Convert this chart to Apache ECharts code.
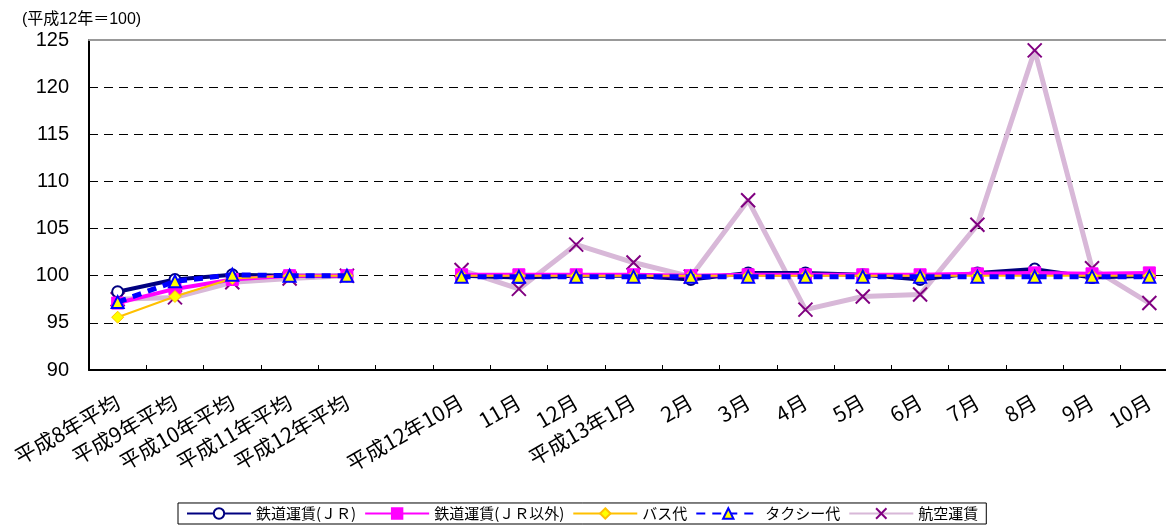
<!DOCTYPE html>
<html><head><meta charset="utf-8">
<script src="https://cdn.jsdelivr.net/npm/echarts@6/dist/echarts.min.js"></script>
<style>html,body{margin:0;padding:0;background:#fff;}#c{width:1166px;height:525px;}</style>
</head><body><div id="c"></div>
<script>
const categories = ['平成8年平均','平成9年平均','平成10年平均','平成11年平均','平成12年平均','',
  '平成12年10月','11月','12月','平成13年1月','2月','3月','4月','5月','6月','7月','8月','9月','10月'];
const seriesNames = ['鉄道運賃(ＪＲ)','鉄道運賃(ＪＲ以外)','バス代','タクシー代','航空運賃'];
const jr      = [98.3, 99.6, 100.1, 100.0, 100.0, null, 100.0, 99.8, 100.0, 100.0, 99.6, 100.3, 100.3, 100.1, 99.6, 100.3, 100.7, 99.8, 100.0];
const nonJr   = [97.1, 98.6, 99.6, 100.0, 100.0, null, 100.1, 100.1, 100.1, 100.1, 100.0, 100.1, 100.1, 100.1, 100.1, 100.2, 100.3, 100.2, 100.3];
const bus     = [95.6, 97.8, 99.7, 100.0, 100.0, null, 100.0, 100.0, 100.0, 100.0, 100.0, 100.0, 100.0, 100.0, 100.0, 100.0, 100.0, 100.0, 100.0];
const taxi    = [97.2, 99.4, 100.1, 100.0, 100.0, null, 99.9, 99.9, 99.9, 99.9, 99.9, 99.9, 99.9, 99.9, 99.9, 99.9, 99.9, 99.9, 99.9];
const air     = [97.5, 97.7, 99.3, 99.7, 100.0, null, 100.6, 98.6, 103.3, 101.4, 99.9, 108.0, 96.4, 97.8, 98.0, 105.4, 123.9, 100.8, 97.1];
const yTicks = {min: 90, max: 125, interval: 5};

const FONT = '"Liberation Sans", "Noto Sans CJK JP", sans-serif';
const JP = '"Noto Sans CJK JP", sans-serif';
const chart = echarts.init(document.getElementById('c'));
const crossPath = 'path://M0,0L10,10M10,0L0,10';
chart.setOption({
  animation: false,
  textStyle: {fontFamily: FONT},
  graphic: [{type:'text', left: 22, top: 12, style:{text:'(平成12年＝100)', font:'16px ' + FONT, fill:'#000'}}],
  grid: {left: 89, top: 40, width: 1089, height: 330, outerBoundsMode: 'none', containLabel: false},
  legend: {
    bottom: 1, left: 178, itemGap: 8, itemWidth: 64, itemHeight: 13,
    borderColor: '#000', borderWidth: 1, padding: [3, 8],
    textStyle: {fontSize: 15, color: '#000', fontFamily: JP},
    data: seriesNames
  },
  xAxis: [{
    type: 'category', data: categories, boundaryGap: true,
    axisLine: {lineStyle: {color: '#000', width: 2}},
    axisTick: {show: true, inside: true, length: 5, lineStyle: {color: '#000'}},
    axisLabel: {rotate: 30, interval: 0, fontSize: 21, color: '#000', margin: 30, fontFamily: JP}
  }, {
    type: 'category', data: categories, position: 'top', boundaryGap: true,
    axisLine: {lineStyle: {color: '#999', width: 2}},
    axisTick: {show: false}, axisLabel: {show: false}
  }],
  yAxis: {
    type: 'value', min: yTicks.min, max: yTicks.max, interval: yTicks.interval,
    axisLine: {show: true, lineStyle: {color: '#000', width: 2}},
    axisTick: {show: false},
    axisLabel: {fontSize: 20, color: '#000', margin: 20, fontFamily: FONT},
    splitLine: {show: true, lineStyle: {color: '#000', type: [9, 6], width: 1}}
  },
  series: [
    {name: seriesNames[0], type: 'line', data: jr, symbol: 'circle', symbolSize: 11,
     lineStyle: {color: '#000080', width: 4}, itemStyle: {color: '#fff', borderColor: '#000080', borderWidth: 2}, z: 3},
    {name: seriesNames[1], type: 'line', data: nonJr, symbol: 'rect', symbolSize: 12,
     lineStyle: {color: '#ff00ff', width: 4}, itemStyle: {color: '#ff00ff', borderColor: '#ff00ff', borderWidth: 1}, z: 4},
    {name: seriesNames[2], type: 'line', data: bus, symbol: 'diamond', symbolSize: 12,
     lineStyle: {color: '#ffc000', width: 2}, itemStyle: {color: '#ffff00', borderColor: '#ffc000', borderWidth: 1}, z: 5},
    {name: seriesNames[3], type: 'line', data: taxi, symbol: 'triangle', symbolSize: 12,
     lineStyle: {color: '#0000ff', width: 5, type: [9, 7]}, itemStyle: {color: '#ffff00', borderColor: '#0000ff', borderWidth: 2}, z: 6},
    {name: seriesNames[4], type: 'line', data: air, symbol: crossPath, symbolSize: 14,
     lineStyle: {color: '#d8b8d8', width: 5}, itemStyle: {color: '#800080', borderColor: '#800080', borderWidth: 2}, z: 2}
  ]
});
</script></body></html>
